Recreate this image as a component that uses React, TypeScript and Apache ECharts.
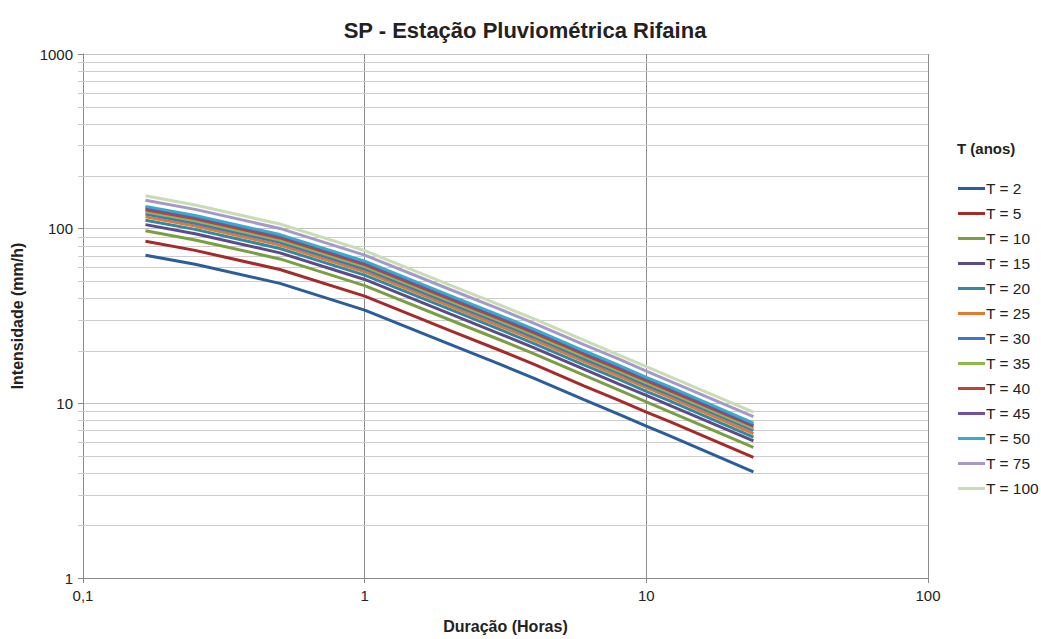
import React, { useEffect, useRef } from "react";
import * as echarts from "echarts";

// Durations (hours)
const durations = [1 / 6, 0.25, 0.5, 1, 2, 3, 4, 6, 8, 10, 12, 24];

// Intensities (mm/h) per return period
const t2 = [70.5, 62.5, 48.6, 34.2, 21.8, 16.8, 13.9, 10.5, 8.65, 7.4, 6.55, 4.05];
const t5 = [84.7, 75.1, 58.4, 41.1, 26.2, 20.2, 16.7, 12.6, 10.4, 8.9, 7.9, 4.9];
const t10 = [97.3, 86.2, 67.1, 47.2, 30.1, 23.2, 19.2, 14.5, 11.9, 10.2, 9.0, 5.6];
const t15 = [105.5, 93.5, 72.7, 51.2, 32.6, 25.1, 20.8, 15.7, 12.9, 11.1, 9.8, 6.1];
const t20 = [111.7, 99.1, 77.0, 54.2, 34.6, 26.6, 22.0, 16.6, 13.7, 11.7, 10.4, 6.4];
const t25 = [116.8, 103.6, 80.5, 56.7, 36.1, 27.8, 23.0, 17.4, 14.3, 12.3, 10.9, 6.7];
const t30 = [121.2, 107.4, 83.5, 58.8, 37.5, 28.9, 23.9, 18.0, 14.9, 12.7, 11.3, 7.0];
const t35 = [125.0, 110.8, 86.1, 60.6, 38.6, 29.8, 24.6, 18.6, 15.3, 13.1, 11.6, 7.2];
const t40 = [128.4, 113.8, 88.5, 62.3, 39.7, 30.6, 25.3, 19.1, 15.7, 13.5, 11.9, 7.4];
const t45 = [131.4, 116.5, 90.6, 63.7, 40.6, 31.3, 25.9, 19.6, 16.1, 13.8, 12.2, 7.5];
const t50 = [134.2, 119.0, 92.5, 65.1, 41.5, 32.0, 26.5, 20.0, 16.5, 14.1, 12.5, 7.7];
const t75 = [145.5, 129.0, 100.3, 70.6, 45.0, 34.7, 28.7, 21.7, 17.9, 15.3, 13.5, 8.4];
const t100 = [154.2, 136.7, 106.3, 74.8, 47.7, 36.7, 30.4, 23.0, 18.9, 16.2, 14.3, 8.9];

const seriesNames = [
  "T = 2", "T = 5", "T = 10", "T = 15", "T = 20", "T = 25", "T = 30",
  "T = 35", "T = 40", "T = 45", "T = 50", "T = 75", "T = 100",
];
const seriesValues = [t2, t5, t10, t15, t20, t25, t30, t35, t40, t45, t50, t75, t100];
const seriesColors = [
  "#2B5C9B", "#A52B2A", "#78A042", "#5E4A8A", "#2F8AA2", "#E27A2E", "#3C77C8",
  "#8DB94A", "#C0403B", "#7151A1", "#35ACCB", "#A898C8", "#C8DDB4",
];

// Minor horizontal gridlines (log scale)
const minorYValues = [
  2, 3, 4, 5, 6, 7, 8, 9,
  20, 30, 40, 50, 60, 70, 80, 90,
  200, 300, 400, 500, 600, 700, 800, 900,
];

const FONT = "'Liberation Sans', Arial, sans-serif";

export default function App() {
  const ref = useRef<HTMLDivElement>(null);

  useEffect(() => {
    if (!ref.current) return;
    const chart = echarts.init(ref.current, undefined, { renderer: "svg" });

    const lineSeries = seriesNames.map((name, i) => ({
      name,
      type: "line",
      data: durations.map((d, j) => [d, seriesValues[i][j]]),
      symbol: "none",
      showSymbol: false,
      lineStyle: { width: 3, color: seriesColors[i] },
      itemStyle: { color: seriesColors[i] },
      z: 3,
    }));

    const option: any = {
      animation: false,
      backgroundColor: "#ffffff",
      textStyle: { fontFamily: FONT },
      grid: { left: 83, right: 113, top: 54, bottom: 51, containLabel: false },
      legend: {
        orient: "vertical",
        left: 953,
        top: 175,
        data: seriesNames,
        icon: "rect",
        itemWidth: 27,
        itemHeight: 3,
        itemGap: 8,
        selectedMode: false,
        textStyle: { fontFamily: FONT, fontSize: 15.5, color: "#222", lineHeight: 17, padding: [0, 0, 0, -4] },
      },
      graphic: [
        {
          type: "text",
          x: 525,
          y: 30,
          style: {
            text: "SP - Estação Pluviométrica Rifaina",
            font: "bold 22px " + FONT,
            fill: "#222",
            textAlign: "center",
            textVerticalAlign: "middle",
          },
        },
        {
          type: "text",
          x: 957,
          y: 148,
          style: {
            text: "T (anos)",
            font: "bold 15px " + FONT,
            fill: "#222",
            textAlign: "left",
            textVerticalAlign: "middle",
          },
        },
      ],
      xAxis: {
        type: "log",
        logBase: 10,
        min: 0.1,
        max: 100,
        name: "Duração (Horas)",
        nameLocation: "middle",
        nameGap: 40,
        nameTextStyle: { fontFamily: FONT, fontSize: 16, fontWeight: "bold", color: "#222" },
        axisLine: { show: true, lineStyle: { color: "#8a8a8a", width: 1 } },
        axisTick: { show: true, length: 5, lineStyle: { color: "#8a8a8a" } },
        axisLabel: {
          fontFamily: FONT,
          fontSize: 15,
          color: "#222",
          margin: 10,
          formatter: (v: number) => String(v).replace(".", ","),
        },
        splitLine: { show: true, lineStyle: { color: "#8c8c8c", width: 1 } },
      },
      yAxis: {
        type: "log",
        logBase: 10,
        min: 1,
        max: 1000,
        name: "Intensidade (mm/h)",
        nameLocation: "middle",
        nameGap: 58,
        nameTextStyle: { fontFamily: FONT, fontSize: 16, fontWeight: "bold", color: "#222" },
        axisLine: { show: true, lineStyle: { color: "#8a8a8a", width: 1 } },
        axisTick: { show: true, length: 5, lineStyle: { color: "#8a8a8a" } },
        axisLabel: {
          fontFamily: FONT,
          fontSize: 15,
          color: "#222",
          margin: 10,
          formatter: (v: number) => String(v),
        },
        splitLine: { show: true, lineStyle: { color: "#c4c4c4", width: 1 } },
      },
      series: [
        {
          type: "custom",
          name: "minorGrid",
          silent: true,
          clip: false,
          z: 1,
          data: minorYValues.map((v) => [0.1, v]),
          renderItem: (_params: any, api: any) => {
            const v = api.value(1);
            const p0 = api.coord([0.1, v]);
            const p1 = api.coord([100, v]);
            const y = Math.round(p0[1]) + 0.5;
            return {
              type: "line",
              shape: { x1: p0[0] - 5, y1: y, x2: p1[0], y2: y },
              style: { stroke: "#cdcdcd", lineWidth: 1 },
            };
          },
        },
        ...lineSeries,
      ],
    };

    chart.setOption(option);
    return () => chart.dispose();
  }, []);

  return (
    <div style={{ position: "fixed", left: 0, top: 0, width: 1041, height: 639, background: "#fff" }}>
      <div ref={ref} style={{ width: 1041, height: 639 }} />
    </div>
  );
}
